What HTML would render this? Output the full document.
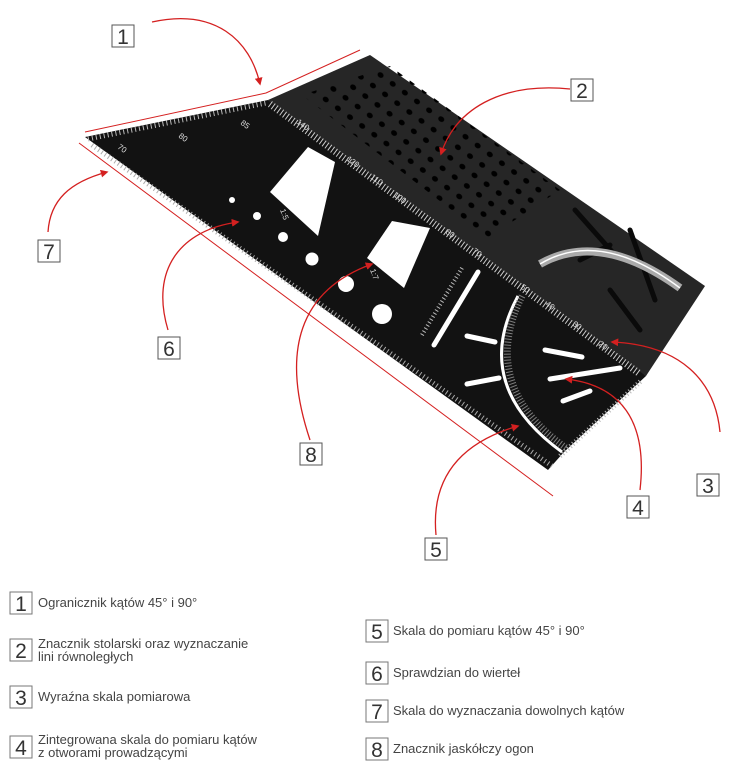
<!DOCTYPE html>
<html><head><meta charset="utf-8"><style>
html,body{margin:0;padding:0;background:#fff;width:734px;height:782px;overflow:hidden}
svg{display:block}
.lg{font-family:"Liberation Sans Narrow","Liberation Sans",sans-serif;font-size:13px;fill:#444}
.bx{font-family:"Liberation Sans",sans-serif;font-size:21px;fill:#333;text-anchor:middle}
.rt{font-family:"Liberation Sans",sans-serif;font-size:8px;fill:#ddd}
</style></head><body>
<svg width="734" height="782" viewBox="0 0 734 782" xmlns="http://www.w3.org/2000/svg">
<defs>
<pattern id="dots" width="15" height="13" patternUnits="userSpaceOnUse" patternTransform="rotate(36)">
<ellipse cx="7" cy="6" rx="3.2" ry="2.6" fill="#000"/>
</pattern>
<marker id="ah" viewBox="0 0 10 10" refX="8" refY="5" markerWidth="6" markerHeight="6" orient="auto"><path d="M0,0 L10,5 L0,10 z" fill="#d42020"/></marker>
</defs>
<!-- red guide lines -->
<polyline points="85,132 266,93 360,50" fill="none" stroke="#d42020" stroke-width="1"/>
<line x1="79" y1="143" x2="553" y2="496" stroke="#d42020" stroke-width="1"/>
<!-- back panel -->
<polygon points="268,100 370,55 705,286 646,376 525,300" fill="#262626"/>
<polygon points="302,95 390,66 560,190 488,238" fill="url(#dots)"/>
<!-- front face -->
<polygon points="85,137 268,100 646,376 564,452 548,470" fill="#121212"/>
<!-- ticks -->
<line x1="88" y1="139" x2="266" y2="103" stroke="#bbb" stroke-width="5" stroke-dasharray="1 3"/>
<line x1="270" y1="104" x2="640" y2="374" stroke="#ccc" stroke-width="7" stroke-dasharray="1 2.5"/>
<line x1="92" y1="145" x2="552" y2="466" stroke="#aaa" stroke-width="5" stroke-dasharray="1 3"/>
<line x1="560" y1="456" x2="642" y2="380" stroke="#bbb" stroke-width="5" stroke-dasharray="1 2.5"/>
<!-- cutouts -->
<polygon points="270,192 308,147 335,162 318,236" fill="#fff"/>
<polygon points="367,258 392,221 430,228 404,288" fill="#fff"/>
<circle cx="232" cy="200" r="3" fill="#fff"/>
<circle cx="257" cy="216" r="4" fill="#fff"/>
<circle cx="283" cy="237" r="5" fill="#fff"/>
<circle cx="312" cy="259" r="6.5" fill="#fff"/>
<circle cx="346" cy="284" r="8" fill="#fff"/>
<circle cx="382" cy="314" r="10" fill="#fff"/>
<g stroke="#fff" stroke-width="5" stroke-linecap="round">
<line x1="434" y1="345" x2="478" y2="272"/>
<line x1="467" y1="336" x2="495" y2="342"/>
<line x1="545" y1="350" x2="582" y2="357"/>
<line x1="550" y1="379" x2="620" y2="368"/>
<line x1="563" y1="401" x2="590" y2="391"/>
<line x1="467" y1="384" x2="499" y2="378"/>
</g>
<path d="M518,296 Q470,385 562,452" fill="none" stroke="#fff" stroke-width="3"/>
<path d="M522,296 Q478,385 566,448" fill="none" stroke="#999" stroke-width="7" stroke-dasharray="1 2" opacity="0.8"/>
<line x1="422" y1="335" x2="462" y2="268" stroke="#bbb" stroke-width="4" stroke-dasharray="1 2.5"/>
<!-- back panel gauge -->
<g stroke="#0a0a0a" stroke-width="5" stroke-linecap="round">
<line x1="575" y1="210" x2="615" y2="255"/>
<line x1="630" y1="230" x2="655" y2="300"/>
<line x1="610" y1="290" x2="640" y2="330"/>
<line x1="580" y1="260" x2="610" y2="245"/>
</g>
<path d="M540,264 Q600,230 680,288" fill="none" stroke="#aaa" stroke-width="8"/>
<path d="M540,264 Q600,228 680,288" fill="none" stroke="#fff" stroke-width="1.5"/>
<!-- rotated numbers -->
<g class="rt">
<text transform="translate(296,123) rotate(36)">140</text>
<text transform="translate(346,160) rotate(36)">120</text>
<text transform="translate(370,178) rotate(36)">110</text>
<text transform="translate(393,196) rotate(36)">100</text>
<text transform="translate(445,233) rotate(36)">80</text>
<text transform="translate(472,252) rotate(36)">70</text>
<text transform="translate(520,288) rotate(36)">50</text>
<text transform="translate(545,305) rotate(36)">40</text>
<text transform="translate(572,325) rotate(36)">30</text>
<text transform="translate(598,345) rotate(36)">20</text>
<text transform="translate(240,124) rotate(36)">85</text>
<text transform="translate(178,137) rotate(36)">80</text>
<text transform="translate(117,148) rotate(36)">70</text>
<text transform="translate(370,270) rotate(70)">1:7</text>
<text transform="translate(280,210) rotate(70)">1:5</text>
</g>
<!-- arrows -->
<g fill="none" stroke="#d42020" stroke-width="1.3" marker-end="url(#ah)">
<path d="M152,22 C215,8 250,40 260,84"/>
<path d="M570,89 C500,82 455,110 441,154"/>
<path d="M720,432 C715,380 680,345 612,342"/>
<path d="M640,490 C648,420 620,385 566,379"/>
<path d="M436,535 C430,470 470,440 518,426"/>
<path d="M168,330 C150,270 180,230 238,222"/>
<path d="M48,232 C50,200 70,182 107,172"/>
<path d="M310,440 C280,350 300,290 372,264"/>
</g>
<!-- label boxes -->
<g fill="#fff" stroke="#555" stroke-width="1">
<rect x="112" y="25" width="22" height="22"/><rect x="571" y="79" width="22" height="22"/>
<rect x="697" y="474" width="22" height="22"/><rect x="627" y="496" width="22" height="22"/>
<rect x="425" y="538" width="22" height="22"/><rect x="158" y="337" width="22" height="22"/>
<rect x="38" y="240" width="22" height="22"/><rect x="300" y="443" width="22" height="22"/>
</g>
<g class="bx">
<text x="123" y="44">1</text><text x="582" y="98">2</text><text x="708" y="493">3</text><text x="638" y="515">4</text>
<text x="436" y="557">5</text><text x="169" y="356">6</text><text x="49" y="259">7</text><text x="311" y="462">8</text>
</g>
<!-- legend -->
<g fill="#fff" stroke="#777" stroke-width="1">
<rect x="10" y="592" width="22" height="22"/><rect x="10" y="639" width="22" height="22"/>
<rect x="10" y="686" width="22" height="22"/><rect x="10" y="736" width="22" height="22"/>
<rect x="366" y="620" width="22" height="22"/><rect x="366" y="662" width="22" height="22"/>
<rect x="366" y="700" width="22" height="22"/><rect x="366" y="738" width="22" height="22"/>
</g>
<g class="bx">
<text x="21" y="611">1</text><text x="21" y="658">2</text><text x="21" y="705">3</text><text x="21" y="755">4</text>
<text x="377" y="639">5</text><text x="377" y="681">6</text><text x="377" y="719">7</text><text x="377" y="757">8</text>
</g>
<g class="lg">
<text x="38" y="607">Ogranicznik kątów 45° i 90°</text>
<text x="38" y="648">Znacznik stolarski oraz wyznaczanie</text>
<text x="38" y="661">lini równoległych</text>
<text x="38" y="701">Wyraźna skala pomiarowa</text>
<text x="38" y="744">Zintegrowana skala do pomiaru kątów</text>
<text x="38" y="757">z otworami prowadzącymi</text>
<text x="393" y="635">Skala do pomiaru kątów  45° i 90°</text>
<text x="393" y="677">Sprawdzian do wierteł</text>
<text x="393" y="715">Skala do wyznaczania dowolnych kątów</text>
<text x="393" y="753">Znacznik jaskółczy ogon</text>
</g>
</svg>
</body></html>
